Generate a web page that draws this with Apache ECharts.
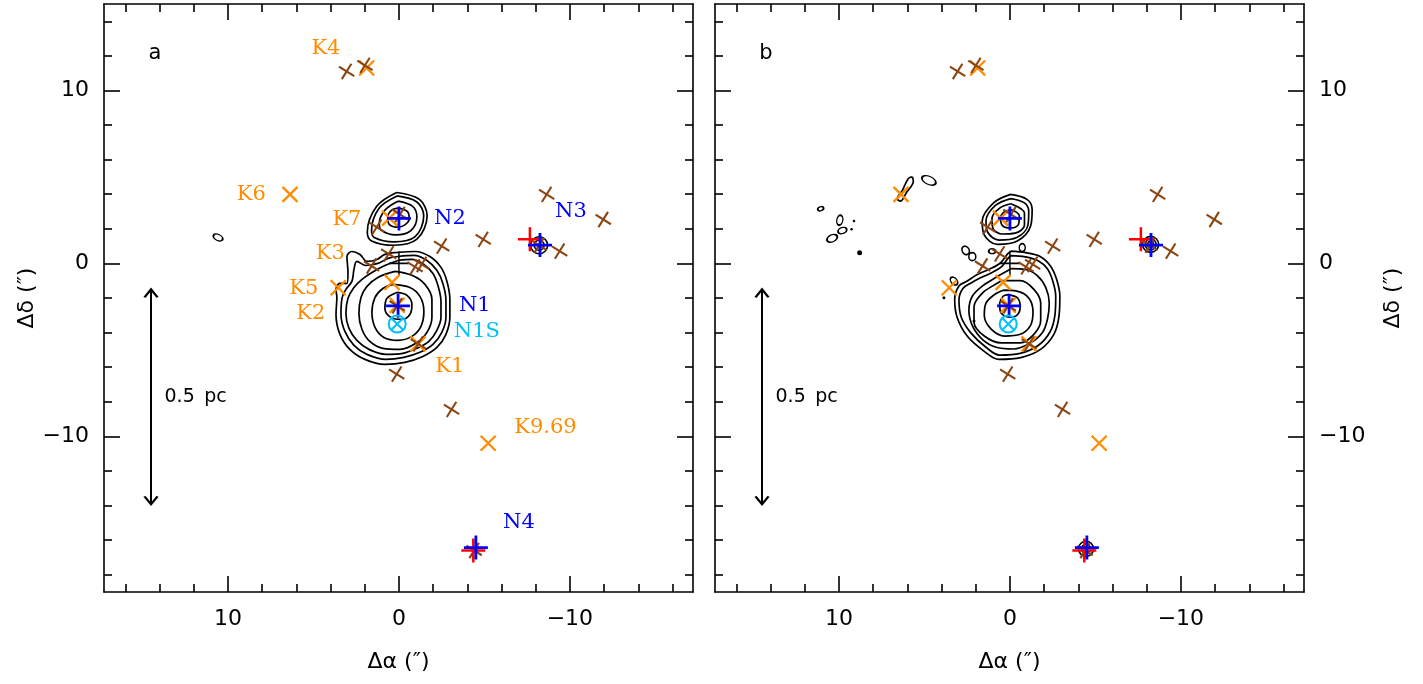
<!DOCTYPE html>
<html><head><meta charset="utf-8">
<script src="https://cdn.jsdelivr.net/npm/echarts@6/dist/echarts.min.js"></script>
<style>html,body{margin:0;padding:0;background:#fff}#c{width:1423px;height:684px}</style>
</head><body><div id="c"></div><script>
// ---------- tick values ----------
const majorTicksX = [-10, 0, 10];
const minorTicksX = [-16,-14,-12,-8,-6,-4,-2,2,4,6,8,12,14,16];
const majorTicksY = [-10, 0, 10];
const minorTicksY = [-18,-16,-14,-12,-8,-6,-4,-2,2,4,6,8,12,14];

// ---------- source positions (arcsec) ----------
const brownX = [[3.06,11.1],[1.99,11.45],[1.3,2.1],[-0.06,2.83],[0.6,0.55],[1.6,-0.15],[-0.94,-0.2],[-1.33,-0.06],
  [-2.5,1.0],[-4.93,1.39],[-8.64,3.99],[-11.95,2.54],[-9.4,0.71],[-8.2,1.05],[0.13,-6.4],[-3.08,-8.44],
  [-1.13,-4.65],[0.1,-2.45],[-4.4,-16.6]];
const orangeX = [[1.89,11.3],[6.37,3.99],[0.55,2.62],[3.55,-1.41],[0.4,-1.1],[0.1,-2.42],[-1.12,-4.65],[-5.22,-10.4]];
const bluePlus = [[0.0,2.6],[0.05,-2.45],[-8.25,1.06],[-4.5,-16.43]];
const redPlus = [[-7.66,1.39],[-4.35,-16.6]];
const n1s = [[0.1,-3.5]];
const refCross = [[0.0,0.0]];

// ---------- labels (panel a) ----------
const labelNames = ['K4','K6','K7','K3','K5','K2','K1','K9.69','N2','N3','N1','N1S','N4'];
const labelX = [4.27,8.63,3.04,4.01,5.56,5.15,-2.98,-8.57,-2.98,-10.06,-4.44,-4.56,-7.02];
const labelY = [12.45,3.96,2.51,0.55,-1.47,-2.92,-5.98,-9.48,2.57,3.0,-2.46,-3.93,-14.97];
const labelKind = ['K','K','K','K','K','K','K','K','N','N','N','S','N'];
const panelLetters = ['a','b'];
const letterPos = [14.27,12.14];
const scaleBarX = 14.5, scaleBarTop = -1.5, scaleBarBottom = -13.93;
const scaleText = '0.5\u2002pc', scaleTextPos = [13.74,-7.75];

// ---------- contours panel a ----------
const cA_N2_1 = [[0.13,4.1],[-1.2,3.7],[-1.65,2.75],[-1.05,1.4],[0.3,1.05],[1.6,1.3],[1.85,1.8],[1.3,3.3]];
const cA_N2_2 = [[0.1,3.9],[-1.05,3.55],[-1.45,2.75],[-0.95,1.55],[0.3,1.25],[1.45,1.5],[1.6,1.9],[1.15,3.2]];
const cA_N2_3 = [[0.05,3.6],[-0.8,3.3],[-1.05,2.7],[-0.7,1.9],[0.2,1.65],[1.0,1.9],[1.15,2.3],[0.8,3.1]];
const cA_N2_4 = [[0.0,3.2],[-0.5,3.0],[-0.6,2.6],[-0.3,2.2],[0.2,2.1],[0.6,2.3],[0.65,2.7],[0.4,3.1]];
const cA_N1_1 = [[0.06,0.64],[-0.94,0.69],[-1.81,0.40],[-2.46,-0.23],[-2.81,-1.04],[-2.98,-2.08],[-2.98,-3.12],[-2.75,-4.10],[-2.22,-4.86],[-1.40,-5.38],[-0.35,-5.72],[0.82,-5.84],[1.99,-5.55],[2.87,-4.97],[3.45,-4.10],[3.68,-2.95],[3.63,-1.97],[3.68,-1.50],[3.45,-1.16],[3.04,-1.16],[2.98,-0.52],[3.04,0.40],[2.75,0.69],[2.28,0.52],[1.87,0.12],[1.29,0.23],[0.82,0.52]];
const cA_N1_2 = [[0.06,0.40],[-0.88,0.46],[-1.64,0.17],[-2.22,-0.40],[-2.57,-1.16],[-2.75,-2.14],[-2.75,-3.12],[-2.51,-3.99],[-1.99,-4.68],[-1.23,-5.14],[-0.29,-5.43],[0.76,-5.55],[1.87,-5.26],[2.63,-4.74],[3.16,-3.93],[3.39,-2.95],[3.33,-2.02],[3.10,-1.50],[2.75,-1.04],[2.63,-0.35],[2.46,0.12],[1.93,-0.12],[1.23,0.0],[0.64,0.29]];
const cA_N1_3 = [[0.06,0.17],[-0.76,0.23],[-1.46,-0.06],[-1.99,-0.58],[-2.28,-1.27],[-2.46,-2.20],[-2.46,-3.12],[-2.22,-3.87],[-1.75,-4.51],[-1.05,-4.91],[-0.23,-5.20],[0.76,-5.26],[1.75,-4.97],[2.46,-4.45],[2.92,-3.76],[3.10,-2.89],[2.98,-2.02],[2.63,-1.39],[2.16,-0.92],[1.58,-0.52],[0.82,-0.12]];
const cA_N1_4 = [[0.23,-0.46],[-0.76,-0.69],[-1.52,-1.21],[-1.93,-2.08],[-1.93,-3.12],[-1.64,-3.99],[-0.99,-4.62],[-0.06,-4.97],[0.94,-4.91],[1.70,-4.51],[2.16,-3.82],[2.34,-2.89],[2.22,-1.97],[1.87,-1.33],[1.23,-0.81]];
const cA_N1_5 = [[0.35,-1.21],[-0.64,-1.39],[-1.23,-1.91],[-1.46,-2.77],[-1.29,-3.64],[-0.76,-4.22],[0.06,-4.45],[0.88,-4.28],[1.40,-3.70],[1.58,-2.83],[1.40,-1.97],[0.94,-1.45]];
const cA_N1_6 = [[0.12,-1.68],[-0.47,-1.85],[-0.76,-2.37],[-0.64,-2.95],[-0.18,-3.24],[0.47,-3.12],[0.82,-2.60],[0.70,-2.02]];
const contoursA = [cA_N2_1,cA_N2_2,cA_N2_3,cA_N2_4,cA_N1_1,cA_N1_2,cA_N1_3,cA_N1_4,cA_N1_5,cA_N1_6];
const ringsA = [[10.58,1.5],[-8.2,1.05],[-8.2,1.05]];
const ringsAStyle = [[10,6,-25],[17,17,0],[10,10,0]];

// ---------- contours panel b ----------
const cB_N2_1 = [[-0.04,3.99],[-1.0,3.7],[-1.3,3.12],[-1.21,2.16],[-0.43,1.29],[0.74,1.1],[1.52,1.68],[1.62,2.45],[0.94,3.51]];
const cB_N2_2 = [[-0.05,3.75],[-0.85,3.5],[-1.1,3.0],[-1.05,2.2],[-0.4,1.5],[0.65,1.35],[1.3,1.8],[1.4,2.45],[0.85,3.35]];
const cB_N2_3 = [[-0.05,3.45],[-0.85,2.9],[-0.85,2.2],[-0.3,1.75],[0.5,1.7],[1.0,2.05],[1.05,2.6],[0.6,3.2]];
const cB_N2_4 = [[-0.1,3.1],[-0.55,2.75],[-0.5,2.25],[-0.1,2.05],[0.4,2.15],[0.55,2.6],[0.3,3.0]];
const cB_N1_1 = [[-0.04,0.71],[-0.92,0.62],[-1.79,0.39],[-2.38,-0.16],[-2.73,-0.92],[-2.92,-1.89],[-2.87,-3.05],[-2.57,-4.10],[-1.79,-4.97],[-0.63,-5.45],[0.64,-5.55],[1.52,-5.07],[2.50,-4.20],[3.08,-3.14],[3.23,-2.08],[2.98,-1.31],[2.50,-1.02],[1.91,-0.64],[1.23,-0.35],[0.54,0.04],[0.16,0.52]];
const cB_N1_2 = [[-0.04,0.45],[-0.9,0.38],[-1.65,0.15],[-2.18,-0.3],[-2.5,-1.0],[-2.68,-1.9],[-2.63,-3.0],[-2.35,-3.95],[-1.65,-4.75],[-0.6,-5.2],[0.6,-5.3],[1.4,-4.85],[2.3,-4.0],[2.85,-3.1],[2.98,-2.1],[2.75,-1.45],[2.3,-1.15],[1.75,-0.85],[1.1,-0.55],[0.5,-0.2],[0.15,0.25]];
const cB_N1_3 = [[-0.1,-0.3],[-0.9,-0.35],[-1.6,-0.7],[-2.1,-1.4],[-2.3,-2.3],[-2.2,-3.2],[-1.9,-4.0],[-1.2,-4.6],[-0.2,-4.95],[0.8,-4.85],[1.6,-4.4],[2.2,-3.6],[2.4,-2.7],[2.2,-1.9],[1.6,-1.3],[0.8,-0.8]];
const cB_N1_4 = [[0.5,-1.0],[-0.6,-1.0],[-1.4,-1.5],[-1.8,-2.3],[-1.8,-3.3],[-1.4,-4.1],[-0.6,-4.6],[0.5,-4.6],[1.5,-4.2],[2.1,-3.4],[2.1,-2.5],[1.6,-1.7],[1.0,-1.3]];
const cB_N1_5 = [[0.4,-1.55],[-0.4,-1.6],[-1.1,-2.0],[-1.35,-2.8],[-1.2,-3.6],[-0.6,-4.1],[0.3,-4.2],[1.1,-3.8],[1.5,-3.0],[1.4,-2.3],[0.9,-1.8]];
const cB_N1_6 = [[0.1,-1.8],[-0.45,-2.0],[-0.6,-2.5],[-0.4,-3.0],[0.1,-3.1],[0.55,-2.8],[0.6,-2.3],[0.4,-1.9]];
const cB_K6 = [[5.7,5.0],[5.95,4.9],[6.3,4.2],[6.6,3.75],[6.4,3.6],[6.05,4.1],[5.65,4.75]];
const contoursB = [cB_N2_1,cB_N2_2,cB_N2_3,cB_N2_4,cB_N1_1,cB_N1_2,cB_N1_3,cB_N1_4,cB_N1_5,cB_N1_6,cB_K6];
const ringsB = [[4.74,4.8],[11.07,3.16],[9.95,2.5],[9.8,1.9],[10.4,1.45],[2.59,0.75],[2.2,0.39],[1.04,0.71],[-0.72,0.91],[3.27,-1.02],[-8.23,1.1],[-8.23,1.1],[-8.23,1.1],[-4.45,-16.5],[-4.45,-16.5]];
const ringsBStyle = [[15,8,-25],[6,4,20],[6,10,-10],[9,6,20],[11,7,25],[7,9,30],[7,8,0],[7,5,0],[6,8,0],[6,9,40],[16,16,0],[11,11,0],[6,6,0],[15,15,0],[9,9,0]];
const dotsB = [[8.79,0.62],[9.12,2.45],[9.26,1.97],[3.86,-1.98],[2.1,-3.33]];
const dotsBSize = [5,2.5,2.5,3,3];

// ---------- styling ----------
const BROWN = '#8B4513', ORANGE = '#FF8C00', BLUE = '#0000FF', RED = '#FF0000', CYAN = '#00BFFF';
const TICKFONT = 'DejaVu Sans', LABFONT = 'DejaVu Serif';
const XR = [-17.2, 17.25], YR = [-19, 15];
const gridsPx = [{left:104, top:4, width:589, height:588},{left:715, top:4, width:589, height:588}];

function fmt(v){ return v < 0 ? '\u2212' + Math.abs(v) : String(v); }
const lineBlack = {color:'#000', width:1.6};
const tickText = {fontFamily:TICKFONT, fontSize:22, color:'#000'};

function axesFor(g, isX, showLabelSide){
  const base = {gridIndex:g, type:'value', min:isX?XR[0]:YR[0], max:isX?XR[1]:YR[1], inverse:isX,
    splitLine:{show:false}, axisLine:{show:true, onZero:false, lineStyle:lineBlack}};
  const pos = isX ? ['bottom','top'] : ['left','right'];
  const maj = isX ? majorTicksX : majorTicksY, mnr = isX ? minorTicksX : minorTicksY;
  const out = [];
  pos.forEach(p => {
    const lab = (p === showLabelSide);
    const a = Object.assign({}, base, {position:p,
      axisTick:{show:true, inside:true, length:16, customValues:maj, lineStyle:lineBlack},
      axisLabel:Object.assign({show:lab, customValues:maj, formatter:fmt, margin: isX ? 16 : 15}, tickText)});
    if (lab) {
      if (isX) Object.assign(a, {name:'\u0394\u03b1 (\u2033)', nameLocation:'middle', nameGap:59, nameTextStyle:tickText});
      else Object.assign(a, {name:'\u0394\u03b4 (\u2033)', nameLocation:'middle', nameGap: p==='left'?64:78, nameRotate:90, nameTextStyle:tickText});
    }
    out.push(a);
    out.push(Object.assign({}, base, {position:p, axisLine:{show:false, onZero:false},
      axisTick:{show:true, inside:true, length:8, customValues:mnr, lineStyle:lineBlack},
      axisLabel:{show:false}}));
  });
  return out;
}

const xAxis = [].concat(axesFor(0,true,'bottom'), axesFor(1,true,'bottom'));
const yAxis = [].concat(axesFor(0,false,'left'), axesFor(1,false,'right'));

const PLUS = 'path://M0,-1L0,1M-1,0L1,0';
const CROSS = 'path://M-1,-1L1,1M-1,1L1,-1';
const CHEV_UP = 'path://M-1,1L0,0L1,1';
const CHEV_DN = 'path://M-1,0L0,1L1,0';
function strokeStyle(c, w){ return {color:'rgba(0,0,0,0)', borderColor:c, borderWidth:w, opacity:1}; }
const hidden = {color:'rgba(0,0,0,0)', opacity:1};

function panelSeries(g){
  const ax = {xAxisIndex:g*4, yAxisIndex:g*4, silent:true, animation:false};
  const S = [];
  const cs = g === 0 ? contoursA : contoursB;
  cs.forEach(c => S.push(Object.assign({type:'line', data:c.concat([c[0]]), smooth:0.35, symbol:'none',
    lineStyle:{color:'#000', width:1.7}, z:2}, ax)));
  const rings = g === 0 ? ringsA : ringsB, rs = g === 0 ? ringsAStyle : ringsBStyle;
  S.push(Object.assign({type:'scatter', z:2, symbol:'circle', itemStyle:strokeStyle('#000',1.6),
    data: rings.map((p,i) => ({value:p, symbolSize:[rs[i][0], rs[i][1]], symbolRotate:rs[i][2]}))}, ax));
  if (g === 1) S.push(Object.assign({type:'scatter', z:2, symbol:'circle', itemStyle:{color:'#000', opacity:1},
    data: dotsB.map((p,i) => ({value:p, symbolSize:dotsBSize[i]}))}, ax));
  S.push(Object.assign({type:'scatter', z:3, data:refCross, symbol:PLUS, symbolSize:[20,24], itemStyle:strokeStyle('#000',1.6)}, ax));
  S.push(Object.assign({type:'scatter', z:4, data:orangeX, symbol:CROSS, symbolSize:15, itemStyle:strokeStyle(ORANGE,2.3)}, ax));
  S.push(Object.assign({type:'scatter', z:5, data:brownX, symbol:PLUS, symbolSize:18, symbolRotate:-32, itemStyle:strokeStyle(BROWN,2.1)}, ax));
  S.push(Object.assign({type:'scatter', z:6, data:redPlus, symbol:PLUS, symbolSize:24, itemStyle:strokeStyle(RED,2.5)}, ax));
  S.push(Object.assign({type:'scatter', z:7, data:bluePlus, symbol:PLUS, symbolSize:24, itemStyle:strokeStyle(BLUE,2.8)}, ax));
  S.push(Object.assign({type:'scatter', z:7, data:n1s, symbol:'circle', symbolSize:17, itemStyle:strokeStyle(CYAN,2)}, ax));
  S.push(Object.assign({type:'scatter', z:7, data:n1s, symbol:CROSS, symbolSize:11, itemStyle:strokeStyle(CYAN,2)}, ax));
  // scale bar
  S.push(Object.assign({type:'line', z:3, data:[[scaleBarX,scaleBarTop],[scaleBarX,scaleBarBottom]], symbol:'none',
    lineStyle:{color:'#000', width:2}}, ax));
  S.push(Object.assign({type:'scatter', z:3, data:[[scaleBarX,scaleBarTop]], symbol:CHEV_UP, symbolSize:[13,8], symbolOffset:[0,4],
    itemStyle:strokeStyle('#000',2)}, ax));
  S.push(Object.assign({type:'scatter', z:3, data:[[scaleBarX,scaleBarBottom]], symbol:CHEV_DN, symbolSize:[13,8], symbolOffset:[0,-4],
    itemStyle:strokeStyle('#000',2)}, ax));
  // texts: panel letter + scale text
  S.push(Object.assign({type:'scatter', z:8, symbolSize:1, itemStyle:hidden,
    data:[{value:letterPos, name:panelLetters[g], label:{position:'inside', fontSize:21}},
          {value:scaleTextPos, name:scaleText, label:{position:'right', distance:0}}],
    label:{show:true, formatter:p=>p.name, fontFamily:TICKFONT, fontSize:19, color:'#000', opacity:1}}, ax));
  if (g === 0) {
    const col = {K:ORANGE, N:BLUE, S:CYAN};
    S.push(Object.assign({type:'scatter', z:8, symbolSize:1, itemStyle:hidden,
      data: labelNames.map((n,i) => ({value:[labelX[i], labelY[i]], name:n, label:{color:col[labelKind[i]]}})),
      label:{show:true, position:'inside', formatter:p=>p.name, fontFamily:LABFONT, fontSize:21, opacity:1}}, ax));
  }
  return S;
}

const chart = echarts.init(document.getElementById('c'), null, {renderer:'canvas'});
chart.setOption({
  animation:false,
  backgroundColor:'#fff',
  grid: gridsPx,
  xAxis, yAxis,
  series: [].concat(panelSeries(0), panelSeries(1))
});
</script></body></html>
